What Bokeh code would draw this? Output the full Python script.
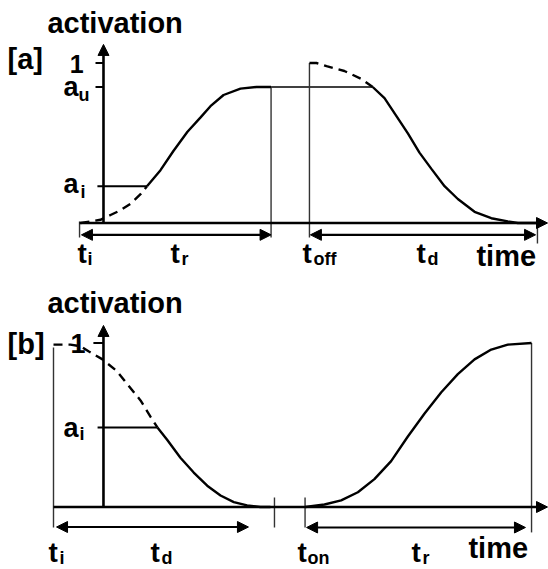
from bokeh.plotting import figure
from bokeh.models import Range1d, Arrow, NormalHead, ColumnDataSource
from bokeh.layouts import column
from bokeh.embed import file_html
from bokeh.resources import INLINE
from bokeh.core.properties import value

FONT = value("Liberation Sans")

# ---------------- panel [a] data (time in arbitrary units, activation 0..1)
A_AU = 0.85
A_AI = 0.23
A_TI = 0.0
A_TR_END = 10.03
A_TOFF = 12.05
A_TD_END = 24.05
A_YAXIS_T = 1.21

A_RISE_DASH_T = [0.0, 0.53, 1.05, 1.58, 2.11, 2.63, 3.16, 3.5]
A_RISE_DASH_A = [0.0, 0.01, 0.02, 0.05, 0.08, 0.12, 0.18, 0.23]
A_RISE_T = [3.5, 4.21, 4.89, 5.63, 6.32, 6.84, 7.53, 8.42, 9.26, 10.03]
A_RISE_A = [0.23, 0.33, 0.45, 0.57, 0.66, 0.73, 0.80, 0.84, 0.85, 0.85]
A_FALL_DASH_T = [12.05, 12.42, 12.95, 13.89, 14.79, 15.38]
A_FALL_DASH_A = [1.0, 1.0, 0.98, 0.95, 0.90, 0.85]
A_FALL_T = [15.38, 16.0, 16.62, 17.23, 17.84, 18.46, 19.16, 19.86, 20.74, 21.62, 22.49, 23.02, 24.0]
A_FALL_A = [0.85, 0.78, 0.67, 0.56, 0.44, 0.34, 0.23, 0.15, 0.07, 0.03, 0.01, 0.0, 0.0]

# ---------------- panel [b] data
B_AI = 0.485
B_TI = 0.0
B_TD_END = 10.26
B_BREAK = 11.63
B_TON = 13.24
B_TR_END = 25.16
B_YAXIS_T = 2.63

B_FALL_DASH_T = [0.0, 0.89, 1.42, 1.84, 2.58, 3.32, 3.95, 4.58, 5.11, 5.47]
B_FALL_DASH_A = [0.99, 0.99, 0.98, 0.95, 0.90, 0.83, 0.74, 0.65, 0.55, 0.485]
B_FALL_T = [5.47, 5.98, 6.68, 7.38, 8.09, 8.79, 9.49, 10.19, 10.89, 11.42]
B_FALL_A = [0.485, 0.41, 0.30, 0.21, 0.13, 0.07, 0.03, 0.01, 0.0, 0.0]
B_RISE_T = [13.25, 14.26, 15.14, 16.02, 16.89, 17.77, 18.65, 19.53, 20.41, 21.28, 22.16, 23.04, 23.91, 25.16]
B_RISE_A = [0.0, 0.015, 0.04, 0.09, 0.17, 0.28, 0.43, 0.57, 0.70, 0.81, 0.90, 0.96, 0.99, 1.0]

# ---------------- layout / styling
A_XR = (-4.2105, 24.6316)
A_YR = (-0.3406, 1.3906)
B_XR = (-2.7895, 26.0526)
B_YR = (-0.3811, 1.3994)
A_PPU = 160.0   # screen px per activation unit, panel a
B_PPU = 164.0   # panel b
MID_SHIFT = 0.34  # fraction of font size between text middle and its baseline

HEAD = 29
BIG = 28
SUB = 18


def make_fig(xr, yr, h):
    p = figure(width=548, height=h, x_range=Range1d(*xr), y_range=Range1d(*yr),
               output_backend="svg", toolbar_location=None, min_border=0,
               x_axis_location=None, y_axis_location=None)
    p.grid.visible = False
    p.outline_line_color = None
    p.background_fill_color = "white"
    p.border_fill_color = "white"
    return p


def arrows(p, x0, y0, x1, y1, double, width):
    src = ColumnDataSource(dict(x0=x0, y0=y0, x1=x1, y1=y1))
    kw = dict(end=NormalHead(size=11, fill_color="black", line_color="black", line_width=1))
    if double:
        kw["start"] = NormalHead(size=11, fill_color="black", line_color="black", line_width=1)
    p.add_layout(Arrow(source=src, x_start="x0", y_start="y0", x_end="x1", y_end="y1",
                       line_width=width, line_color="black", **kw))


def labels(p, items, ppu):
    # items give the text baseline; the text is drawn centred on its middle
    for txt, x, y, size, align in items:
        ym = y + MID_SHIFT * size / ppu
        p.text(x=[x], y=[ym], text=[txt], text_font=FONT, text_font_style="bold",
               text_font_size=f"{size}px", text_align=align, text_baseline="middle",
               text_color="black")


# ================= panel a
pa = make_fig(A_XR, A_YR, 277)
arrows(pa, [-0.05, A_YAXIS_T], [0.0, 0.0], [24.58, A_YAXIS_T], [0.0, 1.116], False, 2.6)
pa.segment(x0=[0.79, 0.79, 0.89], y0=[1.0, A_AU, A_AI], x1=[A_YAXIS_T, A_YAXIS_T, A_RISE_T[0]],
           y1=[1.0, A_AU, A_AI], line_color="black", line_width=2)
pa.segment(x0=[A_TR_END], y0=[A_AU], x1=[A_FALL_T[0]], y1=[A_AU], line_color="black", line_width=1.6)
pa.segment(x0=[A_TI - 0.05, A_TR_END, A_TOFF, A_TD_END], y0=[0.01, A_AU, 1.0, -0.016],
           x1=[A_TI - 0.05, A_TR_END, A_TOFF, A_TD_END], y1=[-0.09, -0.09, -0.09, -0.128],
           line_color="#333333", line_width=1.4)
pa.line(A_RISE_DASH_T, A_RISE_DASH_A, line_color="black", line_width=2.4, line_dash="9 6")
pa.line(A_RISE_T, A_RISE_A, line_color="black", line_width=2.4)
pa.line(A_FALL_DASH_T, A_FALL_DASH_A, line_color="black", line_width=2.4, line_dash="9 6")
pa.line(A_FALL_T, A_FALL_A, line_color="black", line_width=2.4)
arrows(pa, [0.05, 12.1], [-0.074, -0.074], [A_TR_END, 23.95], [-0.074, -0.074], True, 2.2)
labels(pa, [
    ("activation", -1.74, 1.19, HEAD, "left"),
    ("[a]", -3.84, 0.966, HEAD, "left"),
    ("1", 0.16, 0.94, 25, "right"),
    ("a", -0.89, 0.79, 27, "left"), ("u", -0.105, 0.76, SUB, "left"),
    ("a", -0.89, 0.184, 27, "left"), ("i", 0.0, 0.153, SUB, "left"),
    ("t", -0.16, -0.253, BIG, "left"), ("i", 0.37, -0.266, SUB, "left"),
    ("t", 4.74, -0.253, BIG, "left"), ("r", 5.32, -0.266, SUB, "left"),
    ("t", 11.68, -0.253, BIG, "left"), ("off", 12.26, -0.266, SUB, "left"),
    ("t", 17.68, -0.253, BIG, "left"), ("d", 18.26, -0.266, SUB, "left"),
    ("time", 20.84, -0.266, HEAD, "left"),
], A_PPU)

# ================= panel b
pb = make_fig(B_XR, B_YR, 292)
arrows(pb, [B_TI, B_YAXIS_T], [0.0, 0.0], [26.0, B_YAXIS_T], [0.0, 1.107], False, 2.6)
pb.segment(x0=[2.1, 2.32], y0=[1.0, B_AI], x1=[B_YAXIS_T, B_FALL_T[0]], y1=[1.0, B_AI],
           line_color="black", line_width=2)
pb.segment(x0=[B_TI, B_BREAK, B_TON, B_TR_END], y0=[0.973, 0.058, 0.058, 1.0],
           x1=[B_TI, B_BREAK, B_TON, B_TR_END], y1=[-0.125, -0.125, -0.125, -0.155],
           line_color="#333333", line_width=1.4)
pb.line(B_FALL_DASH_T, B_FALL_DASH_A, line_color="black", line_width=2.4, line_dash="9 6")
pb.line(B_FALL_T, B_FALL_A, line_color="black", line_width=2.4)
pb.line(B_RISE_T, B_RISE_A, line_color="black", line_width=2.4)
arrows(pb, [0.16, 13.32], [-0.122, -0.125], [B_TD_END, 24.84], [-0.122, -0.125], True, 2.2)
labels(pb, [
    ("activation", -0.32, 1.186, HEAD, "left"),
    ("[b]", -2.42, 0.936, HEAD, "left"),
    ("1", 1.68, 0.942, 27, "right"),
    ("a", 0.53, 0.424, 27, "left"), ("i", 1.37, 0.405, SUB, "left"),
    ("t", -0.26, -0.334, BIG, "left"), ("i", 0.32, -0.346, SUB, "left"),
    ("t", 5.1, -0.334, BIG, "left"), ("d", 5.68, -0.346, SUB, "left"),
    ("t", 12.84, -0.334, BIG, "left"), ("on", 13.37, -0.346, SUB, "left"),
    ("t", 18.84, -0.334, BIG, "left"), ("r", 19.42, -0.346, SUB, "left"),
    ("time", 21.84, -0.308, HEAD, "left"),
], B_PPU)

layout = column(pa, pb, spacing=0)
open("out.html", "w").write(file_html(layout, INLINE))
